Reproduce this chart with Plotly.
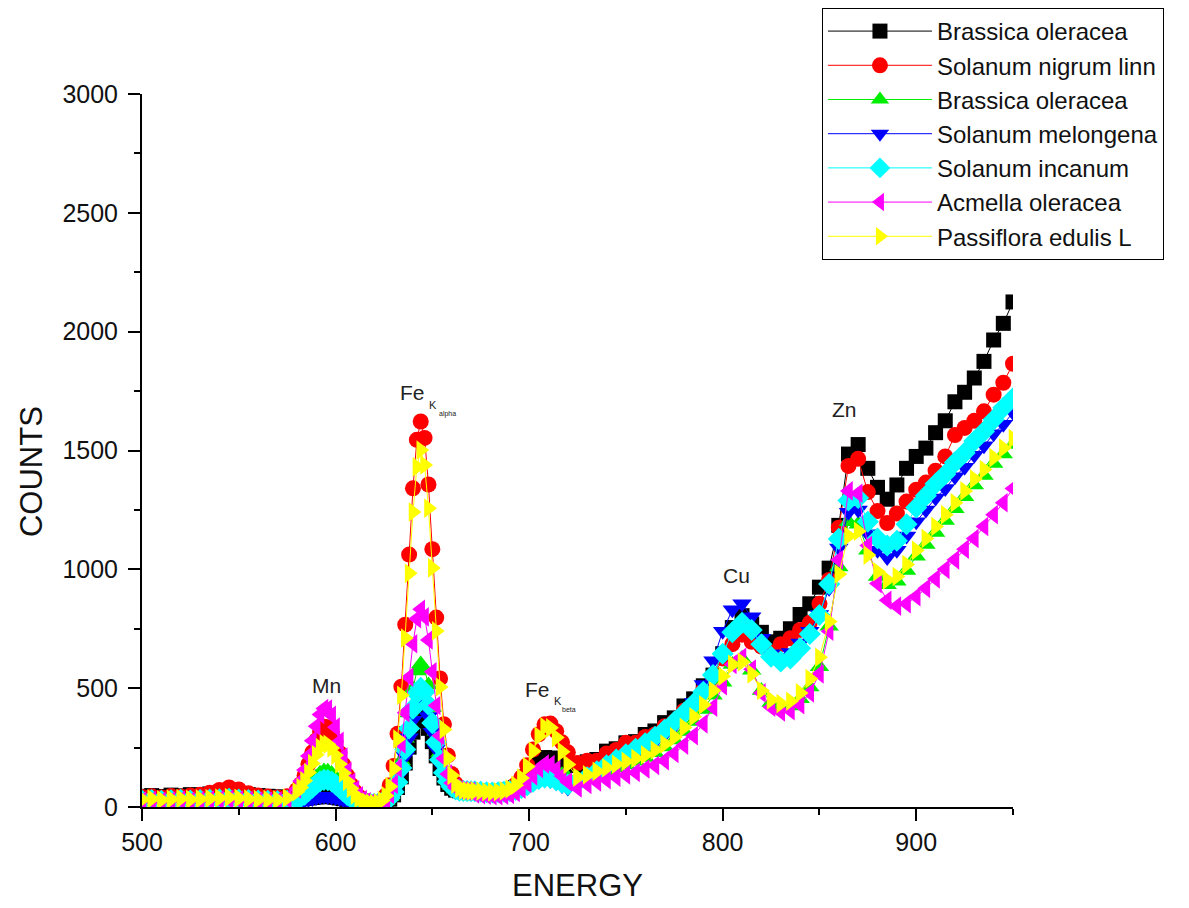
import plotly.graph_objects as go

# ---------------- data ----------------
energy = [500, 505, 510, 515, 520, 525, 530, 535, 540, 545, 550, 555, 560, 565, 570, 575, 580,
          582, 584, 586, 588, 590, 592, 594, 596, 598, 600, 602, 604, 606, 608, 610, 612, 614, 616, 618,
          620, 622, 624, 626, 628, 630, 632, 634, 636, 638, 640, 642, 644, 646, 648, 650, 652, 654, 656,
          658, 660, 662, 664, 666, 668, 670,
          672, 675, 678, 681, 684, 687, 690, 693, 696, 699, 702, 705, 708, 711, 714, 717, 720,
          725, 730, 735, 740, 745, 750, 755, 760, 765, 770, 775, 780, 785, 790, 795, 800, 805, 810,
          815, 820, 825, 830, 835, 840, 845, 850, 855, 860, 865, 870, 875, 880, 885, 890, 895, 900,
          905, 910, 915, 920, 925, 930, 935, 940, 945, 950]

brassica_oleracea_1 = [45, 48, 44, 50, 47, 52, 49, 55, 58, 54, 50, 52, 48, 45, 43, 40, 36,
                       35, 36, 38, 40, 42, 44, 45, 45, 43, 41, 38, 35, 32, 29, 26, 23, 20, 18, 16,
                       15, 15, 18, 23, 33, 51, 82, 127, 185, 252, 315, 362, 382, 370, 331, 275, 215, 162, 122,
                       95, 79, 71, 68, 67, 66, 66,
                       66, 64, 62, 62, 63, 66, 72, 82, 100, 128, 162, 192, 208, 206, 192, 180, 175,
                       175, 190, 200, 235, 245, 270, 275, 305, 320, 355, 375, 425, 455, 510, 555, 645, 755, 805,
                       770, 735, 695, 710, 750, 810, 855, 925, 1005, 1185, 1485, 1525, 1425, 1345, 1295, 1355, 1425, 1475,
                       1510, 1575, 1625, 1705, 1745, 1805, 1875, 1965, 2035, 2125]

solanum_nigrum = [42, 45, 40, 46, 44, 48, 52, 60, 72, 82, 74, 58, 48, 44, 40, 45, 72,
                  96, 133, 180, 230, 280, 318, 338, 336, 316, 277, 228, 178, 132, 93, 65, 44, 32, 24, 20,
                  18, 19, 28, 49, 92, 173, 308, 506, 767, 1062, 1341, 1545, 1622, 1553, 1357, 1085, 797, 541, 348,
                  217, 139, 98, 79, 71, 68, 66,
                  70, 68, 66, 65, 66, 70, 78, 94, 125, 176, 242, 306, 348, 351, 319, 272, 230,
                  185, 195, 195, 225, 240, 270, 270, 295, 305, 340, 360, 405, 435, 495, 545, 625, 685, 725,
                  695, 675, 650, 685, 710, 745, 775, 855, 955, 1175, 1435, 1465, 1325, 1245, 1195, 1235, 1285, 1335,
                  1365, 1415, 1475, 1565, 1595, 1625, 1665, 1735, 1785, 1865]

brassica_oleracea_2 = [28, 30, 27, 29, 31, 28, 30, 32, 34, 36, 33, 30, 28, 27, 26, 28, 38,
                       51, 66, 85, 106, 126, 142, 151, 150, 141, 125, 104, 83, 64, 48, 36, 27, 21, 17, 14,
                       13, 15, 19, 27, 43, 73, 122, 194, 289, 396, 497, 572, 602, 580, 513, 419, 319, 229, 162,
                       117, 90, 76, 70, 68, 67, 66,
                       62, 60, 58, 57, 57, 59, 62, 69, 80, 99, 123, 146, 161, 163, 152, 136, 123,
                       120, 128, 140, 152, 165, 178, 192, 208, 228, 252, 282, 318, 360, 410, 470, 525, 600, 625,
                       575, 490, 440, 420, 425, 455, 505, 590, 760, 1010, 1200, 1190, 1080, 970, 935, 950, 995, 1055,
                       1105, 1155, 1205, 1255, 1305, 1355, 1395, 1445, 1485, 1525]

solanum_melongena = [26, 28, 25, 27, 29, 26, 28, 30, 31, 33, 30, 28, 27, 25, 24, 24, 25,
                     25, 28, 32, 36, 40, 43, 45, 44, 42, 40, 36, 31, 27, 24, 21, 18, 16, 14, 13,
                     13, 14, 18, 24, 35, 57, 93, 145, 214, 291, 365, 420, 442, 428, 381, 314, 244, 180, 133,
                     101, 82, 73, 69, 67, 66, 66,
                     64, 62, 60, 59, 60, 62, 65, 70, 77, 88, 100, 110, 115, 112, 102, 90, 80,
                     95, 120, 145, 165, 185, 205, 225, 250, 275, 305, 340, 385, 440, 515, 615, 740, 830, 855,
                     800, 710, 645, 630, 650, 690, 740, 810, 920, 1090, 1240, 1250, 1150, 1080, 1050, 1080, 1140, 1200,
                     1250, 1300, 1340, 1390, 1430, 1480, 1520, 1570, 1610, 1660]

solanum_incanum = [27, 29, 26, 28, 30, 27, 29, 31, 32, 34, 31, 29, 27, 26, 25, 26, 32,
                   41, 52, 66, 81, 96, 108, 114, 113, 107, 95, 80, 65, 51, 39, 30, 23, 18, 15, 13,
                   13, 15, 18, 25, 38, 63, 104, 164, 242, 330, 414, 477, 502, 485, 430, 353, 272, 199, 144,
                   107, 85, 74, 69, 68, 67, 66,
                   66, 64, 62, 61, 62, 64, 67, 72, 80, 92, 106, 118, 124, 122, 113, 102, 94,
                   105, 125, 150, 175, 200, 222, 245, 268, 295, 325, 358, 395, 435, 485, 555, 645, 735, 775,
                   745, 685, 632, 612, 625, 668, 728, 808, 938, 1128, 1290, 1300, 1200, 1130, 1100, 1120, 1190, 1260,
                   1310, 1360, 1400, 1450, 1490, 1540, 1580, 1630, 1680, 1720]

acmella_oleracea = [25, 27, 24, 26, 28, 25, 27, 29, 30, 32, 29, 27, 25, 24, 25, 34, 76,
                    109, 156, 215, 279, 340, 389, 414, 412, 386, 336, 276, 210, 150, 104, 72, 47, 31, 22, 17,
                    14, 16, 21, 32, 54, 95, 164, 265, 397, 546, 687, 792, 832, 800, 703, 569, 427, 300, 204,
                    139, 101, 81, 72, 69, 67, 66,
                    55, 52, 50, 48, 48, 50, 53, 61, 75, 99, 131, 162, 181, 179, 159, 130, 105,
                    80, 95, 105, 115, 125, 135, 145, 160, 175, 195, 225, 260, 300, 350, 420, 510, 600, 630,
                    580, 480, 420, 400, 405, 430, 480, 560, 740, 1040, 1330, 1320, 1100, 940, 870, 845, 855, 885,
                    920, 960, 1000, 1040, 1085, 1130, 1180, 1230, 1280, 1340]

passiflora_edulis = [32, 34, 30, 33, 35, 32, 34, 36, 38, 40, 37, 34, 32, 31, 30, 38, 64,
                     82, 110, 145, 183, 220, 250, 266, 264, 248, 218, 181, 143, 108, 78, 50, 36, 26, 20, 16,
                     14, 18, 27, 47, 86, 161, 286, 470, 711, 983, 1241, 1431, 1502, 1439, 1257, 1006, 741, 505, 326,
                     205, 133, 96, 78, 71, 68, 66,
                     68, 66, 64, 63, 64, 68, 76, 92, 122, 170, 235, 298, 337, 333, 292, 232, 179,
                     125, 135, 150, 165, 180, 192, 205, 220, 240, 265, 295, 335, 380, 430, 490, 550, 600, 610,
                     560, 490, 450, 435, 445, 480, 540, 630, 780, 980, 1140, 1160, 1060, 990, 955, 970, 1020, 1080,
                     1130, 1180, 1230, 1280, 1330, 1380, 1420, 1470, 1510, 1550]

series_names = ["Brassica oleracea", "Solanum nigrum linn", "Brassica oleracea",
                "Solanum melongena", "Solanum incanum", "Acmella oleracea", "Passiflora edulis L"]
series_values = [brassica_oleracea_1, solanum_nigrum, brassica_oleracea_2,
                 solanum_melongena, solanum_incanum, acmella_oleracea, passiflora_edulis]
series_colors = ["#000000", "#FF0000", "#00EE00", "#0000FF", "#00FFFF", "#FF00FF", "#FFFF00"]
series_symbols = ["square", "circle", "triangle-up", "triangle-down", "diamond",
                  "triangle-left", "triangle-right"]
marker_sizes = [15, 16, 17, 17, 17, 17, 17]

x_ticks = [500, 600, 700, 800, 900]
y_ticks = [0, 500, 1000, 1500, 2000, 2500, 3000]

peak_labels = [("Mn", 595.5, 513, 21), ("Fe", 639.9, 1742, 21), ("K", 650.3, 1690, 11),
               ("alpha", 657.8, 1652, 7), ("Fe", 704.4, 496, 21), ("K", 714.8, 444, 11),
               ("beta", 720.8, 410, 7), ("Cu", 807.2, 976, 21), ("Zn", 862.9, 1674, 21)]

# ---------------- figure ----------------
FONT = "Arial, Liberation Sans, sans-serif"
fig = go.Figure()
for i, (name, vals, col, sym, ms) in enumerate(zip(series_names, series_values, series_colors,
                                                   series_symbols, marker_sizes)):
    fig.add_trace(go.Scatter(
        x=energy, y=vals, name=name, mode="lines+markers",
        line=dict(color=col, width=1),
        marker=dict(symbol=sym, size=ms, color=col),
        legendgroup=f"g{i}",
    ))

for txt, xx, yy, fs in peak_labels:
    fig.add_annotation(x=xx, y=yy, xref="x", yref="y", text=txt, showarrow=False,
                       font=dict(family=FONT, size=fs, color="#222222"))

fig.add_annotation(x=0.5, y=-0.1094, xref="paper", yref="paper", text="ENERGY", showarrow=False,
                   xanchor="center", yanchor="middle", font=dict(family=FONT, size=31, color="#111111"))
fig.add_annotation(x=-0.1274, y=0.4698, xref="paper", yref="paper", text="COUNTS", showarrow=False,
                   textangle=-90, xanchor="center", yanchor="middle",
                   font=dict(family=FONT, size=31, color="#111111"))

axis_common = dict(showgrid=False, zeroline=False, showline=True, linecolor="black", linewidth=2,
                   ticks="outside", ticklen=12, tickwidth=2, tickcolor="black",
                   tickfont=dict(family=FONT, size=25, color="#111111"), mirror=False)

fig.update_xaxes(range=[500, 950], tickvals=x_ticks,
                 minor=dict(ticks="outside", ticklen=6, tickwidth=2, tickcolor="black", dtick=50, tick0=500),
                 **axis_common)
fig.update_yaxes(range=[0, 3000], tickvals=y_ticks, ticklabelstandoff=5,
                 minor=dict(ticks="outside", ticklen=6, tickwidth=2, tickcolor="black", dtick=250, tick0=0),
                 **axis_common)

fig.update_layout(
    width=1189, height=908, autosize=False,
    margin=dict(l=142, r=176, t=94, b=101, autoexpand=False),
    paper_bgcolor="white", plot_bgcolor="white",
    showlegend=True,
    legend=dict(x=0.6913, y=0.9912, xref="container", yref="container",
                xanchor="left", yanchor="top",
                bordercolor="black", borderwidth=1, bgcolor="white",
                font=dict(family=FONT, size=24, color="#111111"),
                tracegroupgap=0, itemwidth=104, traceorder="normal"),
)

fig.write_html("out.html")
